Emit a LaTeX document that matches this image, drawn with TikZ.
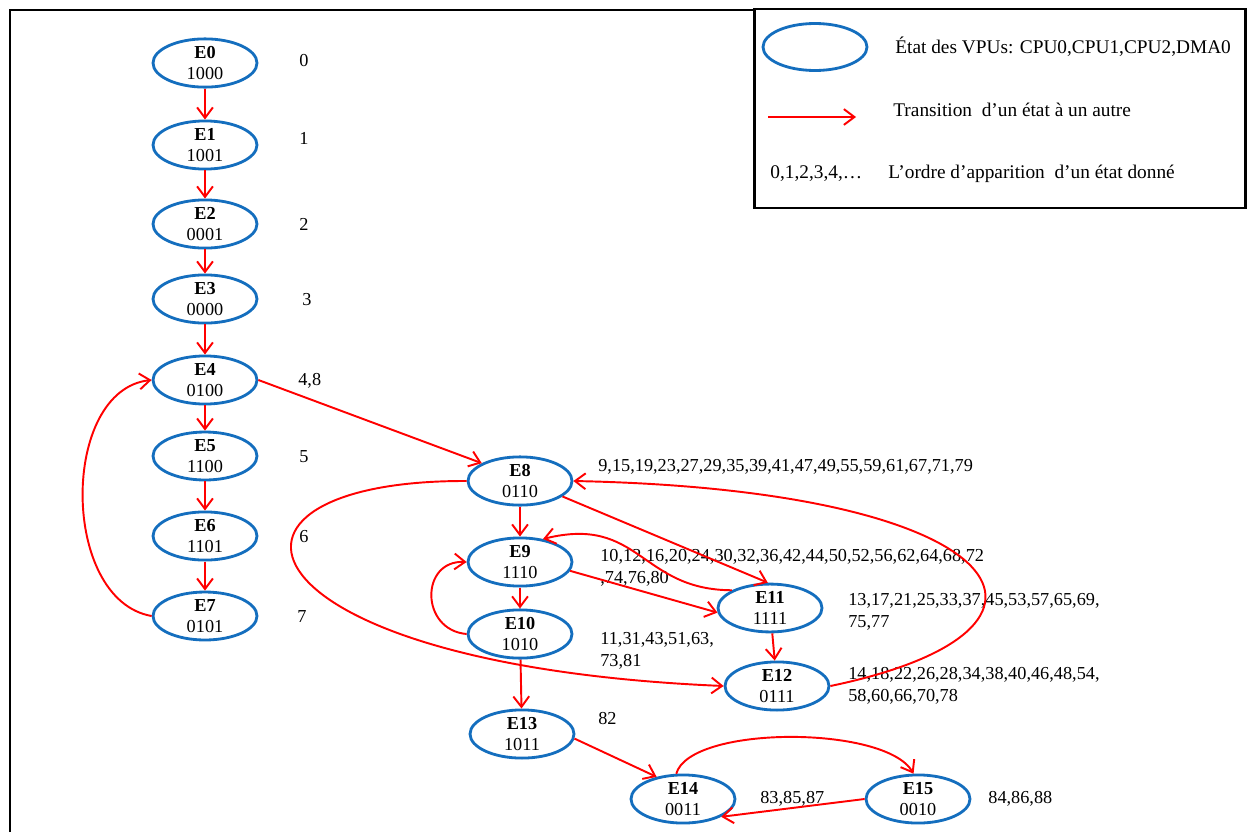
\documentclass[tikz,border=0pt]{standalone}
\usepackage{fontspec}
\setmainfont{Liberation Serif}
\usetikzlibrary{arrows.meta, shapes.geometric}
\definecolor{vpublue}{RGB}{20,110,190}

\begin{document}
\begin{tikzpicture}[x=0.02cm, y=-0.02cm,
  font=\fontsize{10.4pt}{12.4pt}\selectfont,
  vstate/.style={ellipse, draw=vpublue, line width=1.6pt, minimum width=2.08cm, minimum height=0.94cm, inner sep=0pt, align=center},
  trans/.style={red, line width=1.1pt, -{Straight Barb[length=6pt,width=9pt]}},
  ord/.style={anchor=west, align=left, inner sep=0pt},
  legtext/.style={ord, font=\fontsize{11pt}{13pt}\selectfont}]
\useasboundingbox (0,0) rectangle (1247,832);
\fill[white] (0,0) rectangle (1247,832);

% outer frame and legend box
\draw[line width=1.7pt] (10,832) -- (10,10) -- (754,10);
\draw[line width=1.7pt] (754,9) rectangle (1245,208);

% legend
\node[vstate] (leg) at (815,47) {};
\node[legtext] (legA) at (895,47) {État des VPUs: CPU0,CPU1,CPU2,DMA0};
\coordinate (legS) at (768,117);
\coordinate (legT) at (856,117);
\draw[trans] (legS) -- (legT);
\node[legtext] (legB) at (893,110) {Transition\ \ d’un\ état à un autre};
\node[legtext] (legC) at (770,174) {0,1,2,3,4,\dots};
\node[legtext] (legD) at (888,174) {L’ordre\ d’apparition\ \ d’un\ état donné};

% states
\node[vstate] (E0) at (205,63) {\textbf{E0}\\1000};
\node[vstate] (E1) at (205,145) {\textbf{E1}\\1001};
\node[vstate] (E2) at (205,224) {\textbf{E2}\\0001};
\node[vstate] (E3) at (205,299) {\textbf{E3}\\0000};
\node[vstate] (E4) at (205,380) {\textbf{E4}\\0100};
\node[vstate] (E5) at (205,456) {\textbf{E5}\\1100};
\node[vstate] (E6) at (205,536) {\textbf{E6}\\1101};
\node[vstate] (E7) at (205,616) {\textbf{E7}\\0101};
\node[vstate] (E8) at (520,481) {\textbf{E8}\\0110};
\node[vstate] (E9) at (520,562) {\textbf{E9}\\1110};
\node[vstate] (E10) at (520,634) {\textbf{E10}\\1010};
\node[vstate] (E11) at (770,608) {\textbf{E11}\\1111};
\node[vstate] (E12) at (777,686) {\textbf{E12}\\0111};
\node[vstate] (E13) at (522,734) {\textbf{E13}\\1011};
\node[vstate] (E14) at (683,799) {\textbf{E14}\\0011};
\node[vstate] (E15) at (918,799) {\textbf{E15}\\0010};

% order of appearance
\node[ord] (o0) at (299,61) {0};
\node[ord] (o1) at (299,138) {1};
\node[ord] (o2) at (299,224) {2};
\node[ord] (o3) at (302,300) {3};
\node[ord] (o4) at (298,381) {4,8};
\node[ord] (o5) at (299,457) {5};
\node[ord] (o6) at (299,537) {6};
\node[ord] (o7) at (297,617) {7};
\node[ord] (o8) at (598,467) {9,15,19,23,27,29,35,39,41,47,49,55,59,61,67,71,79};
\node[ord] (o9) at (600,568) {10,12,16,20,24,30,32,36,42,44,50,52,56,62,64,68,72\\,74,76,80};
\node[ord] (o10) at (600,651) {11,31,43,51,63,\\73,81};
\node[ord] (o11) at (848,612) {13,17,21,25,33,37,45,53,57,65,69,\\75,77};
\node[ord] (o12) at (848,686) {14,18,22,26,28,34,38,40,46,48,54,\\58,60,66,70,78};
\node[ord] (o13) at (598,719) {82};
\node[ord] (o14) at (760,799) {83,85,87};
\node[ord] (o15) at (988,799) {84,86,88};

% transitions
\draw[trans] (E0) -- (E1);
\draw[trans] (E1) -- (E2);
\draw[trans] (E2) -- (E3);
\draw[trans] (E3) -- (E4);
\draw[trans] (E4) -- (E5);
\draw[trans] (E5) -- (E6);
\draw[trans] (E6) -- (E7);
\draw[trans] (E7.west) .. controls (60,600) and (60,390) .. (E4.west);
\draw[trans] (E4.east) -- (E8.155);
\draw[trans] (E8) -- (E9);
\draw[trans] (E8.-20) -- (E11.95);
\draw[trans] (E8.west) .. controls (180,480) and (230,665) .. (E12.west);
\draw[trans] (E12.east) .. controls (1100,630) and (1020,490) .. (E8.east);
\draw[trans] (E9.-10) -- (E11.185);
\draw[trans] (E11.155) .. controls (640,590) and (640,515) .. (E9.45);
\draw[trans] (E9) -- (E10);
\draw[trans] (E10.west) .. controls (420,630) and (420,560) .. (E9.west);
\draw[trans] (E10) -- (E13);
\draw[trans] (E11) -- (E12);
\draw[trans] (E13.-5) -- (E14.140);
\draw[trans] (E14.105) .. controls (690,725) and (885,725) .. (E15.100);
\draw[trans] (E15.west) -- (E14.-25);
\end{tikzpicture}
\end{document}
